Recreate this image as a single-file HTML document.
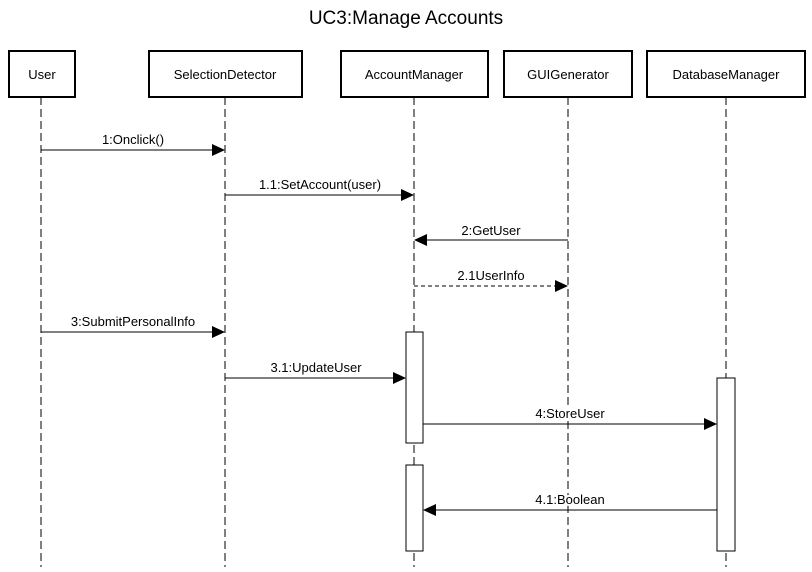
<!DOCTYPE html>
<html><head><style>body{margin:0;background:#fff}</style></head><body>
<svg width="812" height="567" xmlns="http://www.w3.org/2000/svg" font-family="Liberation Sans, sans-serif" font-size="12">
<rect width="812" height="567" fill="#fff"/>
<text x="406" y="24" font-size="19" text-anchor="middle">UC3:Manage Accounts</text>
<g stroke="#000" stroke-dasharray="8,4" stroke-width="1">
<line x1="41" y1="97" x2="41" y2="567"/>
<line x1="225" y1="97" x2="225" y2="567"/>
<line x1="414" y1="97" x2="414" y2="567"/>
<line x1="568" y1="97" x2="568" y2="567"/>
<line x1="726" y1="97" x2="726" y2="567"/>
</g>
<g fill="#fff" stroke="#000" stroke-width="2">
<rect x="9" y="51" width="66" height="46"/>
<rect x="149" y="51" width="153" height="46"/>
<rect x="341" y="51" width="147" height="46"/>
<rect x="504" y="51" width="128" height="46"/>
<rect x="647" y="51" width="158" height="46"/>
</g>
<g text-anchor="middle" font-size="13">
<text x="42" y="79">User</text>
<text x="225" y="79">SelectionDetector</text>
<text x="414" y="79">AccountManager</text>
<text x="568" y="79">GUIGenerator</text>
<text x="726" y="79">DatabaseManager</text>
</g>
<g fill="#fff" stroke="#000" stroke-width="1">
<rect x="406" y="332" width="17" height="111"/>
<rect x="406" y="465" width="17" height="86"/>
<rect x="717" y="378" width="18" height="173"/>
</g>
<g stroke="#000" stroke-width="1">
<line x1="41" y1="150" x2="212" y2="150"/>
<line x1="225" y1="195" x2="401" y2="195"/>
<line x1="568" y1="240" x2="427" y2="240"/>
<line x1="414" y1="286" x2="555" y2="286" stroke-dasharray="4,3"/>
<line x1="41" y1="332" x2="212" y2="332"/>
<line x1="225" y1="378" x2="393" y2="378"/>
<line x1="423" y1="424" x2="704" y2="424"/>
<line x1="717" y1="510" x2="436" y2="510"/>
</g>
<g fill="#000">
<polygon points="225,150 212,144 212,156"/>
<polygon points="414,195 401,189 401,201"/>
<polygon points="414,240 427,234 427,246"/>
<polygon points="568,286 555,280 555,292"/>
<polygon points="225,332 212,326 212,338"/>
<polygon points="406,378 393,372 393,384"/>
<polygon points="717,424 704,418 704,430"/>
<polygon points="423,510 436,504 436,516"/>
</g>
<g text-anchor="middle" font-size="13" stroke="#fff" stroke-width="4" paint-order="stroke" fill="#000">
<text x="133" y="144">1:Onclick()</text>
<text x="320" y="189">1.1:SetAccount(user)</text>
<text x="491" y="235">2:GetUser</text>
<text x="491" y="280">2.1UserInfo</text>
<text x="133" y="326">3:SubmitPersonalInfo</text>
<text x="316" y="372">3.1:UpdateUser</text>
<text x="570" y="418">4:StoreUser</text>
<text x="570" y="504">4.1:Boolean</text>
</g>
</svg>
</body></html>
